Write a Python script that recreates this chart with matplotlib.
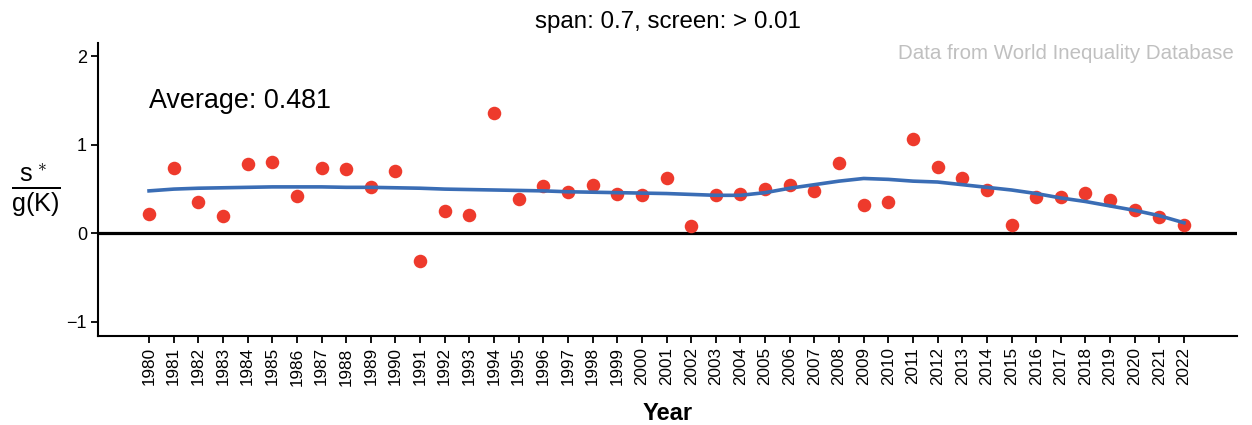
import matplotlib
matplotlib.use('Agg')
import matplotlib.pyplot as plt

plt.rcParams['font.family'] = ['Liberation Sans', 'DejaVu Sans']
plt.rcParams['mathtext.fontset'] = 'custom'
plt.rcParams['mathtext.rm'] = 'Liberation Sans'
plt.rcParams['mathtext.it'] = 'Liberation Sans'

years = list(range(1980, 2023))
ratio = [0.22, 0.74, 0.35, 0.20, 0.78, 0.81, 0.42, 0.74, 0.73, 0.52,
         0.70, -0.31, 0.25, 0.21, 1.36, 0.39, 0.53, 0.47, 0.55, 0.44,
         0.43, 0.62, 0.08, 0.43, 0.44, 0.50, 0.55, 0.48, 0.80, 0.32,
         0.36, 1.07, 0.75, 0.62, 0.49, 0.10, 0.41, 0.41, 0.46, 0.38,
         0.26, 0.18, 0.09]
smooth = [0.48, 0.50, 0.51, 0.515, 0.52, 0.525, 0.525, 0.525, 0.52, 0.52,
          0.515, 0.51, 0.50, 0.495, 0.49, 0.485, 0.48, 0.47, 0.465, 0.46,
          0.455, 0.45, 0.44, 0.43, 0.43, 0.46, 0.51, 0.55, 0.59, 0.62,
          0.61, 0.59, 0.58, 0.55, 0.52, 0.49, 0.45, 0.40, 0.36, 0.31,
          0.26, 0.20, 0.12]
average = 0.481

fig = plt.figure(figsize=(12.52, 4.25), dpi=100)
ax = fig.add_axes([0.0783, 0.209, 0.988 - 0.0783, 0.899 - 0.209])

ax.axhline(0, color='black', linewidth=2.3, zorder=1)
ax.scatter(years, ratio, s=95, color='#EE3A2C', zorder=2, linewidths=0)
ax.plot(years, smooth, color='#3A6DB5', linewidth=2.6, zorder=3)

ax.set_xlim(1977.93, 2024.15)
ax.set_ylim(-1.16, 2.15)
ax.set_xticks(years)
ax.set_xticklabels([str(y) for y in years], rotation=90, fontsize=12.3)
ax.set_yticks([-1, 0, 1, 2])
ax.set_yticklabels(['\u22121', '0', '1', '2'], fontsize=13)
ax.tick_params(axis='both', length=5, width=1.3, color='black', labelcolor='black', pad=3)

for side in ['top', 'right']:
    ax.spines[side].set_visible(False)
for side in ['left', 'bottom']:
    ax.spines[side].set_linewidth(1.5)

ax.set_xlabel('Year', fontsize=17, fontweight='bold', labelpad=12)
ax.set_ylabel(r'$\frac{\mathrm{s}^{\,\ast}}{\mathrm{g(K)}}$', rotation=0, fontsize=26,
              va='center', labelpad=22)
ax.set_title('span: 0.7, screen: > 0.01', fontsize=17.4, pad=11)

ax.text(1980, 1.5, 'Average: {:.3f}'.format(average), fontsize=19.4, ha='left', va='center')
ax.text(0.9975, 0.995, 'Data from World Inequality Database', transform=ax.transAxes,
        fontsize=14.8, color='#C0C0C0', ha='right', va='top')

plt.savefig('out.png', dpi=100)
